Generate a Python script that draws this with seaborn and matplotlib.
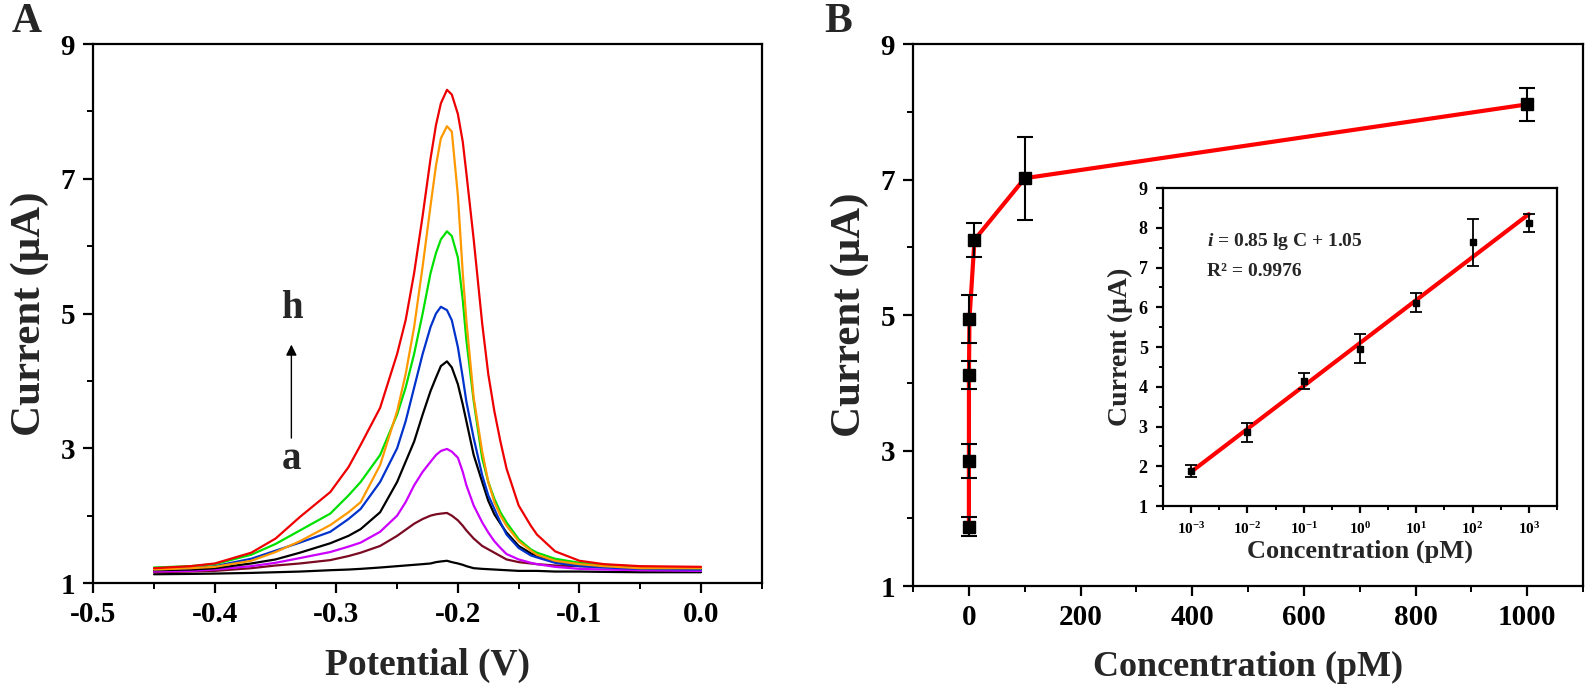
import numpy as np
import pandas as pd
import matplotlib
matplotlib.use("Agg")
import matplotlib.pyplot as plt
from matplotlib.ticker import MultipleLocator, FixedLocator
import seaborn as sns

# ---------------- data ----------------
potential = [-0.45, -0.42, -0.40, -0.37, -0.35, -0.33, -0.305, -0.29, -0.28, -0.264,
             -0.25, -0.243, -0.236, -0.229, -0.2225, -0.218, -0.214, -0.209, -0.205, -0.20,
             -0.196, -0.193, -0.187, -0.18, -0.175, -0.17, -0.165, -0.16, -0.15, -0.14,
             -0.135, -0.12, -0.10, -0.08, -0.05, 0.0]

curve_a = [1.13, 1.135, 1.14, 1.15, 1.16, 1.17, 1.19, 1.20, 1.21, 1.23,
           1.25, 1.26, 1.27, 1.28, 1.29, 1.31, 1.32, 1.33, 1.31, 1.29,
           1.27, 1.25, 1.22, 1.21, 1.205, 1.20, 1.195, 1.19, 1.18, 1.18,
           1.18, 1.17, 1.17, 1.165, 1.16, 1.16]
curve_b = [1.16, 1.17, 1.18, 1.22, 1.26, 1.29, 1.34, 1.40, 1.45, 1.55,
           1.70, 1.79, 1.88, 1.95, 2.00, 2.02, 2.03, 2.04, 2.00, 1.93,
           1.85, 1.78, 1.66, 1.55, 1.50, 1.45, 1.40, 1.35, 1.31, 1.29,
           1.28, 1.26, 1.25, 1.24, 1.23, 1.22]
curve_c = [1.17, 1.18, 1.20, 1.25, 1.30, 1.37, 1.46, 1.54, 1.60, 1.76,
           2.00, 2.20, 2.45, 2.65, 2.80, 2.90, 2.96, 2.99, 2.95, 2.86,
           2.65, 2.45, 2.15, 1.90, 1.75, 1.62, 1.52, 1.43, 1.35, 1.30,
           1.28, 1.24, 1.21, 1.20, 1.19, 1.18]
curve_d = [1.19, 1.20, 1.22, 1.29, 1.35, 1.45, 1.59, 1.70, 1.80, 2.05,
           2.50, 2.80, 3.10, 3.50, 3.85, 4.05, 4.22, 4.29, 4.20, 3.95,
           3.65, 3.40, 2.90, 2.50, 2.22, 2.02, 1.88, 1.75, 1.55, 1.44,
           1.40, 1.33, 1.28, 1.25, 1.23, 1.22]
curve_e = [1.20, 1.22, 1.25, 1.36, 1.48, 1.60, 1.76, 1.95, 2.10, 2.50,
           3.00, 3.40, 3.90, 4.40, 4.80, 5.00, 5.10, 5.05, 4.90, 4.50,
           4.05, 3.69, 3.15, 2.60, 2.30, 2.10, 1.90, 1.72, 1.52, 1.41,
           1.38, 1.30, 1.25, 1.23, 1.21, 1.20]
curve_f = [1.23, 1.25, 1.28, 1.42, 1.58, 1.78, 2.03, 2.30, 2.50, 2.90,
           3.50, 3.90, 4.40, 5.00, 5.60, 5.90, 6.10, 6.22, 6.15, 5.83,
           5.20, 4.60, 3.70, 2.85, 2.50, 2.25, 2.05, 1.90, 1.65, 1.50,
           1.45, 1.36, 1.30, 1.27, 1.24, 1.22]
curve_g = [1.20, 1.22, 1.24, 1.33, 1.46, 1.62, 1.86, 2.05, 2.20, 2.75,
           3.55, 4.10, 4.80, 5.70, 6.60, 7.20, 7.60, 7.78, 7.70, 6.75,
           5.60, 4.89, 3.75, 2.95, 2.50, 2.20, 2.00, 1.85, 1.62, 1.48,
           1.42, 1.33, 1.28, 1.25, 1.22, 1.22]
curve_h = [1.22, 1.25, 1.29, 1.45, 1.66, 1.98, 2.35, 2.72, 3.05, 3.60,
           4.40, 4.90, 5.60, 6.45, 7.30, 7.80, 8.12, 8.32, 8.25, 7.96,
           7.55, 7.08, 6.10, 4.85, 4.10, 3.55, 3.10, 2.70, 2.15, 1.85,
           1.72, 1.47, 1.33, 1.28, 1.25, 1.24]

curve_names = ["a", "b", "c", "d", "e", "f", "g", "h"]
curve_colors = ["#000000", "#7a0a22", "#cc00ff", "#000000", "#0033cc", "#00e000", "#ff9900", "#ee0000"]

concentration = [0.001, 0.01, 0.1, 1, 10, 100, 1000]
current_main = [1.88, 2.85, 4.12, 4.94, 6.11, 7.02, 8.11]
err_main = [0.14, 0.25, 0.21, 0.35, 0.25, 0.61, 0.24]

current_inset = [1.88, 2.85, 4.15, 4.96, 6.12, 7.63, 8.12]
err_inset = [0.14, 0.25, 0.20, 0.36, 0.25, 0.60, 0.23]

a_ticks = [1, 3, 5, 7, 9]
a_xticks = [-0.5, -0.4, -0.3, -0.2, -0.1, 0.0]
b_xticks = [0, 200, 400, 600, 800, 1000]
inset_yticks = [1, 2, 3, 4, 5, 6, 7, 8, 9]
inset_exponents = [-3, -2, -1, 0, 1, 2, 3]

# ---------------- style ----------------
sns.set_theme(style="ticks")
plt.rcParams["font.family"] = ["Liberation Serif", "DejaVu Serif"]
plt.rcParams["font.weight"] = "bold"
plt.rcParams["axes.labelweight"] = "bold"
plt.rcParams["mathtext.fontset"] = "custom"
plt.rcParams["mathtext.rm"] = "Liberation Serif:bold"
plt.rcParams["mathtext.bf"] = "Liberation Serif:bold"
plt.rcParams["mathtext.it"] = "Liberation Serif:italic:bold"
plt.rcParams["axes.linewidth"] = 1.6
plt.rcParams["xtick.major.width"] = 1.6
plt.rcParams["ytick.major.width"] = 1.6
plt.rcParams["xtick.minor.width"] = 1.4
plt.rcParams["ytick.minor.width"] = 1.4
plt.rcParams["xtick.color"] = "black"
plt.rcParams["ytick.color"] = "black"
plt.rcParams["axes.edgecolor"] = "black"

fig = plt.figure(figsize=(15.86, 6.88), dpi=100)

def style_axes(ax, tick_size, major_len=7, minor_len=4.5):
    for s in ax.spines.values():
        s.set_visible(True)
        s.set_color("black")
    ax.tick_params(axis="both", which="major", direction="out", length=major_len,
                   labelsize=tick_size, top=False, right=False, pad=6)
    ax.tick_params(axis="both", which="minor", direction="out", length=minor_len,
                   top=False, right=False)
    for lab in ax.get_xticklabels() + ax.get_yticklabels():
        lab.set_fontweight("bold")

# ---------------- panel A ----------------
axA = fig.add_axes([0.0588, 0.1526, 0.4215, 0.7834])
rows = []
curves = [curve_a, curve_b, curve_c, curve_d, curve_e, curve_f, curve_g, curve_h]
for name, vals in zip(curve_names, curves):
    for p, v in zip(potential, vals):
        rows.append({"Potential": p, "Current": v, "curve": name})
dfA = pd.DataFrame(rows)
sns.lineplot(data=dfA, x="Potential", y="Current", hue="curve",
             palette=dict(zip(curve_names, curve_colors)), hue_order=curve_names,
             estimator=None, sort=False, legend=False, lw=1.6, ax=axA)
axA.set_xlim(-0.5, 0.05)
axA.set_ylim(1, 9)
axA.xaxis.set_major_locator(FixedLocator(a_xticks))
axA.xaxis.set_minor_locator(MultipleLocator(0.05))
axA.yaxis.set_major_locator(FixedLocator(a_ticks))
axA.yaxis.set_minor_locator(MultipleLocator(1))
axA.set_xticklabels(["%.1f" % t for t in a_xticks])
axA.set_yticklabels([str(t) for t in a_ticks])
style_axes(axA, 21)
axA.set_xlabel("Potential (V)", fontsize=27, fontweight="bold", labelpad=14)
axA.set_ylabel("Current (μA)", fontsize=31, fontweight="bold", labelpad=8)
axA.annotate("", xy=(-0.337, 4.58), xytext=(-0.337, 3.11),
             arrowprops=dict(arrowstyle="-|>", color="black", lw=1.0, mutation_scale=16))
axA.text(-0.337, 5.07, "h", fontsize=28, fontweight="bold", ha="center", va="center")
axA.text(-0.337, 2.84, "a", fontsize=28, fontweight="bold", ha="center", va="center")
fig.text(0.0075, 0.968, "A", fontsize=30, fontweight="bold", ha="left", va="center")

# ---------------- panel B ----------------
axB = fig.add_axes([0.5757, 0.148, 0.4225, 0.788])
sns.lineplot(x=concentration, y=current_main, color="#ff0000", lw=3, sort=False,
             estimator=None, ax=axB, zorder=2)
axB.errorbar(concentration, current_main, yerr=err_main, fmt="s", color="black",
             ms=8, capsize=6, elinewidth=1.5, capthick=1.5, zorder=3)
axB.set_xlim(-100, 1100)
axB.set_ylim(1, 9)
axB.xaxis.set_major_locator(FixedLocator(b_xticks))
axB.xaxis.set_minor_locator(MultipleLocator(100))
axB.yaxis.set_major_locator(FixedLocator(a_ticks))
axB.yaxis.set_minor_locator(MultipleLocator(1))
axB.set_xticklabels([str(t) for t in b_xticks])
axB.set_yticklabels([str(t) for t in a_ticks])
style_axes(axB, 21)
axB.set_xlabel("Concentration (pM)", fontsize=26, fontweight="bold", labelpad=14)
axB.set_ylabel("Current (μA)", fontsize=31, fontweight="bold", labelpad=8)
fig.text(0.5195, 0.968, "B", fontsize=30, fontweight="bold", ha="left", va="center")

# ---------------- inset ----------------
axI = fig.add_axes([0.7333, 0.2645, 0.2484, 0.4622])
log_c = np.log10(concentration)
sns.regplot(x=log_c, y=current_inset, ci=None, scatter=False, truncate=True,
            line_kws=dict(color="#ff0000", lw=3, zorder=2), ax=axI)
axI.errorbar(log_c, current_inset, yerr=err_inset, fmt="s", color="black",
             ms=5, capsize=4, elinewidth=1.3, capthick=1.3, zorder=3)
axI.set_xlim(-3.5, 3.5)
axI.set_ylim(1, 9)
axI.xaxis.set_major_locator(FixedLocator(inset_exponents))
axI.xaxis.set_minor_locator(MultipleLocator(0.5))
axI.yaxis.set_major_locator(FixedLocator(inset_yticks))
axI.yaxis.set_minor_locator(MultipleLocator(0.5))
axI.set_xticklabels([r"$\mathbf{10^{%d}}$" % e for e in inset_exponents])
axI.set_yticklabels([str(t) for t in inset_yticks])
style_axes(axI, 13, major_len=5, minor_len=3)
axI.tick_params(axis="x", labelsize=11)
axI.set_xlabel("Concentration (pM)", fontsize=19, fontweight="bold", labelpad=2)
axI.set_ylabel("Current (μA)", fontsize=20, fontweight="bold", labelpad=4)
axI.text(0.112, 0.833, r"$\mathit{i}$ = 0.85 lg C + 1.05", transform=axI.transAxes,
         fontsize=14, fontweight="bold", ha="left", va="center")
axI.text(0.112, 0.739, "R² = 0.9976", transform=axI.transAxes,
         fontsize=14, fontweight="bold", ha="left", va="center")

fig.savefig("out.png", dpi=100, facecolor="white")
